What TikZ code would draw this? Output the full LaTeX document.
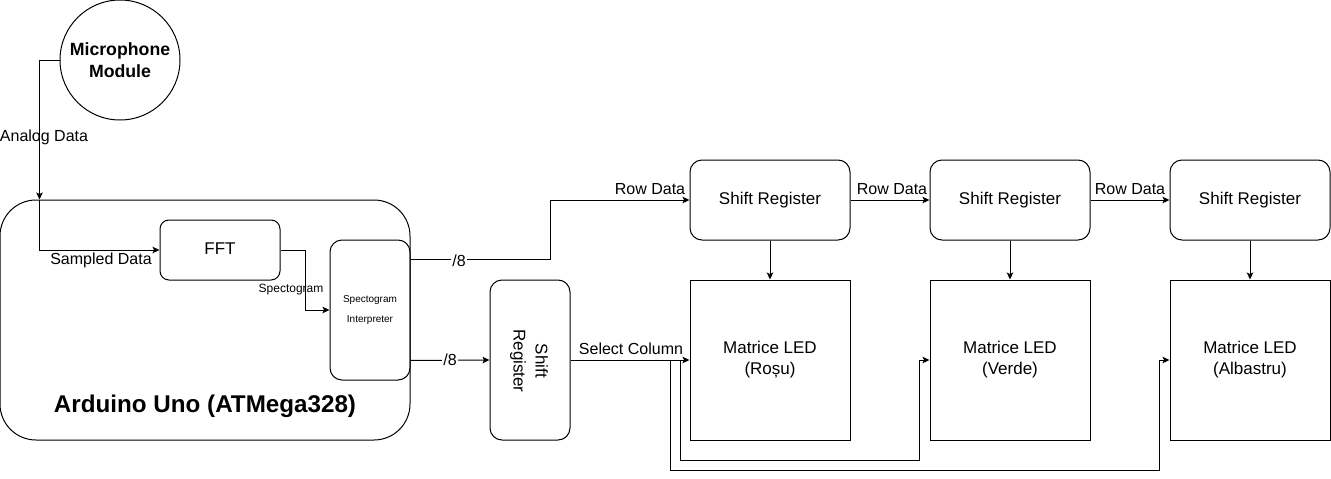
\documentclass[tikz,border=0pt]{standalone}
\usepackage{fontspec}
\setmainfont{Liberation Sans}
\usetikzlibrary{arrows.meta,calc}
\newcommand\fsz[2]{\fontsize{#1}{#2}\selectfont}
\begin{document}
\begin{tikzpicture}[x=1pt,y=-1pt,line width=1pt,
  base/.style={draw,inner sep=0pt,align=center,font=\fsz{17}{21}},
  micro/.style={base,circle,minimum size=120pt,font=\bfseries\fsz{17.7}{22}},
  board/.style={base,rounded corners=36pt,minimum width=410pt,minimum height=240pt},
  fftbox/.style={base,rounded corners=9pt,minimum width=120pt,minimum height=60pt},
  interp/.style={base,rounded corners=12pt,minimum width=80pt,minimum height=140pt,font=\fsz{10}{20}},
  vreg/.style={base,rounded corners=12pt,minimum width=80pt,minimum height=160pt},
  hreg/.style={base,rounded corners=12pt,minimum width=160pt,minimum height=80pt},
  ledm/.style={base,minimum width=160pt,minimum height=160pt},
  lbl/.style={inner sep=1pt,font=\fsz{16}{19}},
  wire/.style={-{Stealth[length=7pt,width=6.5pt,inset=1.5pt]}}
]
\useasboundingbox (0,0) rectangle (1331,479);

% nodes
\node[micro] (mic) at (120,60) {Microphone\\Module};
\node[board] (ard) at (205,320) {};
\node[font=\bfseries\fsz{24.2}{28},inner sep=0pt] (ardlbl) at (205,406) {Arduino Uno (ATMega328)};
\node[fftbox] (fft) at (220,250) {\raisebox{2pt}{FFT}};
\node[interp] (int) at (370,310) {Spectogram\\Interpreter};
\node[vreg] (vsr) at (530,360) {};
\node[rotate=-90,align=center,font=\fsz{17}{22},inner sep=0pt] (vsrlbl) at (529,361) {Shift\\Register};
\node[hreg] (sr1) at (770,200) {Shift Register};
\node[hreg] (sr2) at (1010,200) {Shift Register};
\node[hreg] (sr3) at (1250,200) {Shift Register};
\node[ledm] (m1) at (770,360) {\raisebox{2pt}{\begin{tabular}{@{}c@{}}Matrice LED\\(Roșu)\end{tabular}}};
\node[ledm] (m2) at (1010,360) {\raisebox{2pt}{\begin{tabular}{@{}c@{}}Matrice LED\\(Verde)\end{tabular}}};
\node[ledm] (m3) at (1250,360) {\raisebox{2pt}{\begin{tabular}{@{}c@{}}Matrice LED\\(Albastru)\end{tabular}}};

\coordinate (ain) at ($(ard.north west)+(40,0)$);

% connectors
\draw[wire] (mic.west) -| (ain);
\draw[wire] (ain) |- (fft.west);
\draw[wire] (fft.east) -- ++(25,0) |- (int.west);
\draw[wire] ($(int.north east)+(0,20)$) -- ++(140,0) |- (sr1.west);
\draw[wire] ($(int.south east)+(0,-20)$) -- (vsr.west);
\draw[wire] (vsr.east) -- (m1.west);
\draw[wire] (vsr.east) -| ++(110,100) -| ($(m2.west)+(-10,0)$) -- (m2.west);
\draw[wire] (vsr.east) -| ++(100,110) -| ($(m3.west)+(-10,0)$) -- (m3.west);
\draw[wire] (sr1.east) -- (sr2.west);
\draw[wire] (sr2.east) -- (sr3.west);
\draw[wire] (sr1.south) -- (m1.north);
\draw[wire] (sr2.south) -- (m2.north);
\draw[wire] (sr3.south) -- (m3.north);

% labels
\node[lbl] (l1) at (44,137) {Analog Data};
\node[lbl] (l2) at (101,260) {Sampled Data};
\node[lbl,font=\fsz{12}{14}] (l3) at (291,290) {Spectogram};
\node[lbl,fill=white] (l4) at (459,261) {/8};
\node[lbl,fill=white] (l5) at (450,360) {/8};
\node[lbl] (l6) at (650,189) {Row Data};
\node[lbl] (l7) at (892,189) {Row Data};
\node[lbl] (l8) at (1130,189) {Row Data};
\node[lbl] (l9) at (631,349) {Select Column};
\end{tikzpicture}
\end{document}
